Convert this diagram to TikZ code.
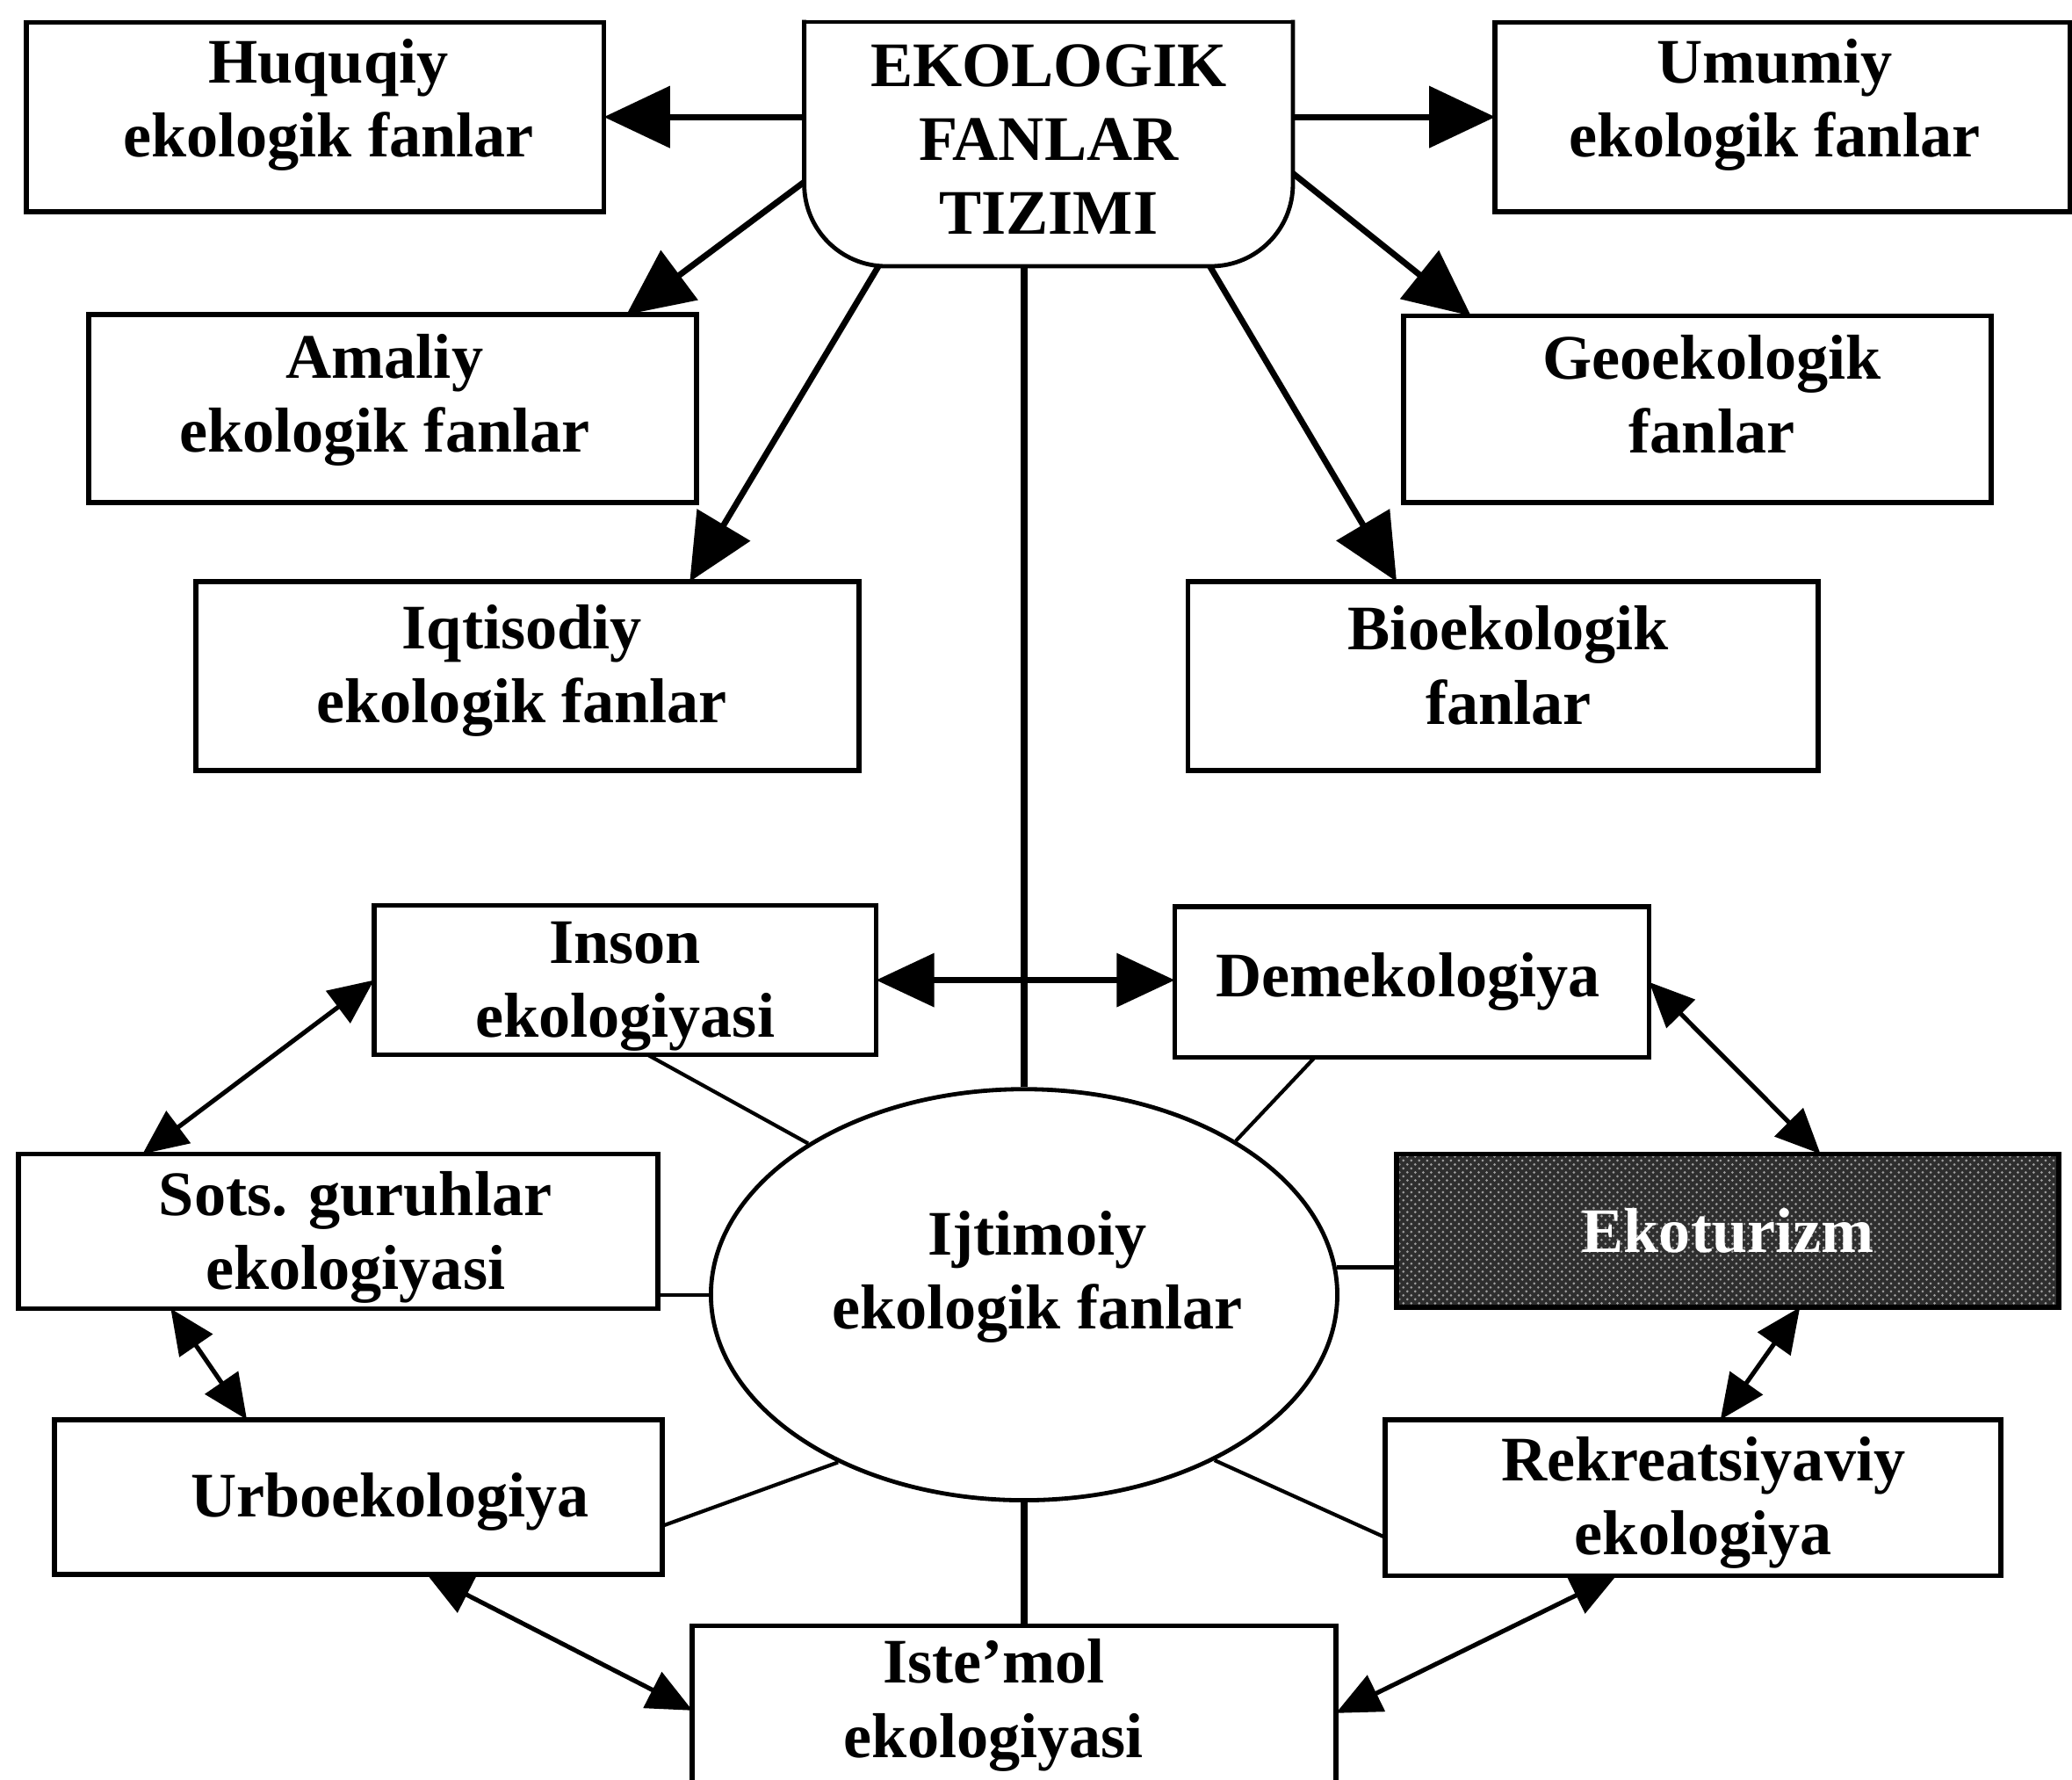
\documentclass[tikz,border=0pt]{standalone}
\usepackage{fontspec}
\setmainfont{Liberation Serif}
\usetikzlibrary{arrows.meta,calc,shapes.geometric,patterns}
% shift the text of a box by (#1 right, #2 up) without changing its size
\newcommand\mvtxt[3]{\raisebox{#2}[\height][\depth]{\hspace*{#1}\begin{tabular}{@{}c@{}}#3\end{tabular}\hspace*{-#1}}}
\begin{document}
\begin{tikzpicture}[x=0.5pt,y=-0.5pt,
  every node/.style={font=\bfseries\fontsize{24}{28}\selectfont, align=center, inner sep=0pt},
  box/.style={draw, line width=1.9pt, outer sep=0pt},
  bigarr/.style={line width=2.3pt, -{Triangle[length=25pt,width=23pt]}},
  dblarr/.style={line width=2.2pt, {Triangle[length=22pt,width=20pt]}-{Triangle[length=22pt,width=20pt]}},
  ringarr/.style={line width=1.7pt, {Triangle[length=17pt,width=15pt]}-{Triangle[length=17pt,width=15pt]}},
  spoke/.style={line width=1.4pt},
  topline/.style={line width=1.6pt, line cap=rect},
]
\path[use as bounding box, clip] (0,0) rectangle (1568,1346);
\fill[white] (0,0) rectangle (1568,1346);

% nodes
\node[box, minimum width=218.5pt, minimum height=71.5pt] (huq) at (238.5,88.5) {\mvtxt{5pt}{4.5pt}{Huquqiy\\ekologik fanlar}};
\node[minimum width=184.5pt, minimum height=92pt] (top) at (793.5,109) {\mvtxt{0pt}{-0.5pt}{EKOLOGIK\\FANLAR\\TIZIMI}};
\node[box, minimum width=217.5pt, minimum height=71.5pt] (umu) at (1349,88.5) {\mvtxt{-3pt}{4.5pt}{Umumiy\\ekologik fanlar}};
\node[box, minimum width=230pt, minimum height=71pt] (ama) at (297,309) {\mvtxt{-3pt}{3pt}{Amaliy\\ekologik fanlar}};
\node[box, minimum width=222.5pt, minimum height=70.5pt] (geo) at (1284.5,309.5) {\mvtxt{5.5pt}{3pt}{Geoekologik\\fanlar}};
\node[box, minimum width=251pt, minimum height=71.5pt] (iqt) at (399,511.5) {\mvtxt{-2pt}{2pt}{Iqtisodiy\\ekologik fanlar}};
\node[box, minimum width=238.5pt, minimum height=71.5pt] (bio) at (1137.5,511.5) {\mvtxt{2pt}{1.5pt}{Bioekologik\\fanlar}};
\node[box, minimum width=190pt, minimum height=56.5pt] (ins) at (473,741.5) {\mvtxt{0pt}{-2pt}{Inson\\ekologiyasi}};
\node[box, minimum width=179.5pt, minimum height=57pt] (dem) at (1068.5,743) {\mvtxt{-1.5pt}{0pt}{Demekologiya}};
\node[box, minimum width=242pt, minimum height=58.5pt] (sot) at (256,931.5) {\mvtxt{6.5pt}{-2.5pt}{Sots. guruhlar\\ekologiyasi}};
\node[box, preaction={fill=black!82}, pattern=crosshatch dots, pattern color=gray!75, text=white,
      minimum width=250.5pt, minimum height=58pt] (eko) at (1307.5,931) {Ekoturizm};
\node[box, minimum width=230pt, minimum height=58.5pt] (urb) at (271,1132.5) {};
\node (urbt) at (295,1136) {Urboekologiya};
\node[box, minimum width=233pt, minimum height=59pt] (rek) at (1281,1133) {\mvtxt{4pt}{-2pt}{Rekreatsiyaviy\\ekologiya}};
\node[box, minimum width=243.5pt, minimum height=75pt] (ist) at (767.5,1305) {};
\node (istt) at (752,1290) {Iste’mol\\ekologiyasi};
\node[ellipse, draw, line width=1.6pt, minimum width=237pt, minimum height=155.5pt] (ell) at (775,979.5) {};
\node (ellt) at (785,966) {Ijtimoiy\\ekologik fanlar};

% outline of the top node (rounded bottom corners)
\draw[topline, rounded corners=31pt] (top.north west) -- (top.south west) -- (top.south east) -- (top.north east);
\draw[topline] (top.north west) -- (top.north east);

% connectors from the top node
\draw[bigarr] (top.west |- huq.east) -- (huq.east);
\draw[bigarr] (top.east |- umu.west) -- (umu.west);
\draw[bigarr] ($(top.north west)!0.655!(top.south west)$) -- ($(ama.north west)!0.885!(ama.north east)$);
\draw[bigarr] ($(top.south west)!0.152!(top.south east)$) -- ($(iqt.north west)!0.745!(iqt.north east)$);
\draw[bigarr] ($(top.north east)!0.62!(top.south east)$) -- ($(geo.north west)!0.115!(geo.north east)$);
\draw[bigarr] ($(top.south west)!0.83!(top.south east)$) -- ($(bio.north west)!0.331!(bio.north east)$);
\draw[line width=2.6pt] (ell.north |- top.south) -- (ell.north);
\draw[line width=2.6pt] (ell.south) -- (ell.south |- ist.north);

% double arrows round the ellipse
\draw[dblarr] (ins.east) -- (ins.east -| dem.west);
\draw[ringarr] (ins.west) -- ($(sot.north west)!0.194!(sot.north east)$);
\draw[ringarr] ($(sot.south west)!0.238!(sot.south east)$) -- ($(urb.north west)!0.317!(urb.north east)$);
\draw[ringarr] (dem.east) -- ($(eko.north west)!0.64!(eko.north east)$);
\draw[ringarr] ($(eko.south west)!0.609!(eko.south east)$) -- ($(rek.north west)!0.545!(rek.north east)$);
\draw[ringarr] ($(urb.south west)!0.613!(urb.south east)$) -- ($(ist.north west)+(0,64)$);
\draw[ringarr] ($(rek.south west)!0.376!(rek.south east)$) -- ($(ist.north east)+(0,66)$);

% spokes to the ellipse
\draw[spoke] ($(ins.south west)!0.545!(ins.south east)$) -- (ell.145);
\draw[spoke] ($(dem.south west)!0.295!(dem.south east)$) -- (ell.36.6);
\draw[spoke] (ell.west) -- (ell.west -| sot.east);
\draw[spoke] (ell.5.5) -- (ell.5.5 -| eko.west);
\draw[spoke] ($(urb.east)+(0,22)$) -- (ell.222.3);
\draw[spoke] ($(rek.west)+(0,30)$) -- (ell.319.5);
\end{tikzpicture}
\end{document}
